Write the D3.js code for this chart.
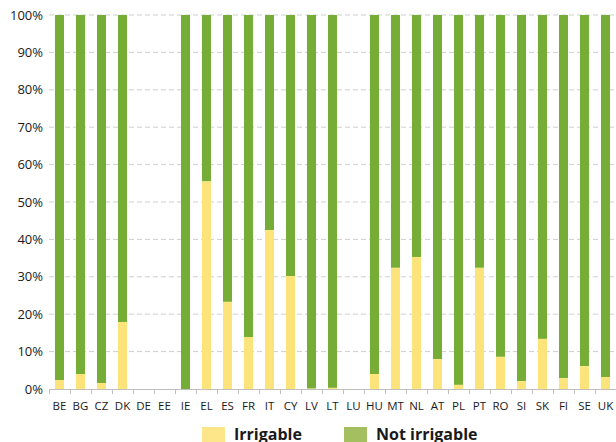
<!DOCTYPE html>
<html>
<head>
<meta charset="utf-8">
<script src="https://cdn.jsdelivr.net/npm/d3@7"></script>
<style>
  body { margin: 0; background: #fff; }
  text { font-family: "Open Sans", "DejaVu Sans", sans-serif; }
</style>
</head>
<body>
<svg id="chart" width="616" height="442"></svg>
<script>
// countries along the x axis
const countries = ["BE","BG","CZ","DK","DE","EE","IE","EL","ES","FR","IT","CY","LV","LT","LU",
                   "HU","MT","NL","AT","PL","PT","RO","SI","SK","FI","SE","UK"];
// share of irrigable area (%), null = no data
const irrigable = [2.4, 4.0, 1.6, 17.9, null, null, 0, 55.5, 23.3, 13.9, 42.5, 30.2, 0.1, 0.3, null,
                   4.0, 32.4, 35.3, 8.0, 1.1, 32.4, 8.6, 2.1, 13.4, 2.9, 6.1, 3.2];
const yTicks = [0, 10, 20, 30, 40, 50, 60, 70, 80, 90, 100];
const seriesNames = ["Irrigable", "Not irrigable"];

const colour = { irr: "#fde47a", notIrr: "#75ad37", legIrr: "#fde68a", legNot: "#a3bf5f" };

const svg = d3.select("#chart");
const plotL = 49, plotR = 616, plotT = 15, plotB = 389;

const x = d3.scaleBand().domain(countries).range([plotL, plotR]).paddingInner(0.57).paddingOuter(0.285);
const y = d3.scaleLinear().domain([0, 100]).range([plotB, plotT]);

// gridlines
svg.append("g")
    .selectAll("line")
    .data(yTicks.filter(d => d > 0))
    .join("line")
    .attr("x1", plotL).attr("x2", plotR)
    .attr("y1", d => y(d)).attr("y2", d => y(d))
    .attr("stroke", "#cfcfcf")
    .attr("stroke-dasharray", "5,3");

// y labels
svg.append("g")
    .selectAll("text")
    .data(yTicks)
    .join("text")
    .attr("x", 43)
    .attr("y", d => y(d) + 4.5)
    .attr("text-anchor", "end")
    .attr("font-size", "13px")
    .attr("fill", "#1a1a1a")
    .text(d => d + "%");

// stacked bars
const rows = countries.map((c, i) => ({ c: c, irr: irrigable[i] })).filter(d => d.irr !== null);

svg.append("g")
    .selectAll("rect")
    .data(rows)
    .join("rect")
    .attr("x", d => x(d.c))
    .attr("width", x.bandwidth())
    .attr("y", y(100))
    .attr("height", d => y(d.irr) - y(100))
    .attr("fill", colour.notIrr);

svg.append("g")
    .selectAll("rect")
    .data(rows)
    .join("rect")
    .attr("x", d => x(d.c))
    .attr("width", x.bandwidth())
    .attr("y", d => y(d.irr))
    .attr("height", d => y(0) - y(d.irr))
    .attr("fill", colour.irr);

// x axis baseline + ticks between categories
const step = x.step();
svg.append("line")
    .attr("x1", plotL).attr("x2", plotR)
    .attr("y1", plotB + 0.5).attr("y2", plotB + 0.5)
    .attr("stroke", "#bfbfbf");

svg.append("g")
    .selectAll("line")
    .data(d3.range(countries.length + 1))
    .join("line")
    .attr("x1", i => plotL + i * step + 0.5)
    .attr("x2", i => plotL + i * step + 0.5)
    .attr("y1", plotB).attr("y2", plotB + 5)
    .attr("stroke", "#bfbfbf");

svg.append("g")
    .selectAll("text")
    .data(countries)
    .join("text")
    .attr("x", d => x(d) + x.bandwidth() / 2)
    .attr("y", 410)
    .attr("text-anchor", "middle")
    .attr("font-size", "11.5px")
    .attr("fill", "#1a1a1a")
    .text(d => d);

// legend
const legend = [
    { name: seriesNames[0], col: colour.legIrr, x: 202 },
    { name: seriesNames[1], col: colour.legNot, x: 344 }
];
const lg = svg.append("g").selectAll("g").data(legend).join("g");
lg.append("rect")
    .attr("x", d => d.x).attr("y", 427)
    .attr("width", 23).attr("height", 15)
    .attr("fill", d => d.col);
lg.append("text")
    .attr("x", d => d.x + 32)
    .attr("y", 440)
    .attr("font-size", "16px")
    .attr("font-weight", "bold")
    .attr("fill", "#1a1a1a")
    .text(d => d.name);
</script>
</body>
</html>
